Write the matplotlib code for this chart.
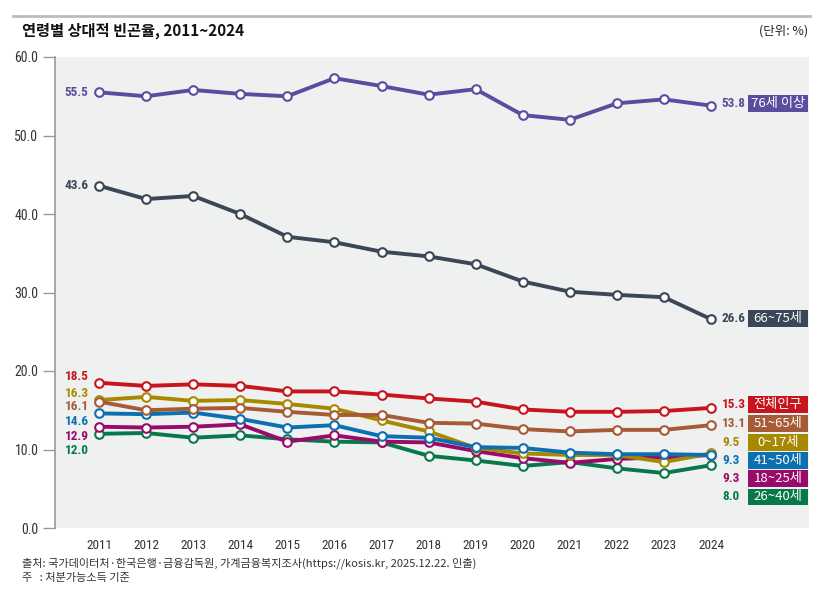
import numpy as np
import matplotlib
matplotlib.use('Agg')
import matplotlib.pyplot as plt
from matplotlib.patches import Rectangle

plt.rcParams['font.family'] = ['Noto Sans CJK KR', 'DejaVu Sans']
NUM = ['Roboto Condensed', 'Liberation Sans Narrow', 'Roboto', 'DejaVu Sans']

years = list(range(2011, 2025))

# 연령별 상대적 빈곤율 (%)
age76 = [55.5, 55.0, 55.8, 55.3, 55.0, 57.3, 56.3, 55.2, 55.9, 52.6, 52.0, 54.1, 54.6, 53.8]
age66_75 = [43.6, 41.9, 42.3, 40.0, 37.1, 36.4, 35.2, 34.6, 33.6, 31.4, 30.1, 29.7, 29.4, 26.6]
total = [18.5, 18.1, 18.3, 18.1, 17.4, 17.4, 17.0, 16.5, 16.1, 15.1, 14.8, 14.8, 14.9, 15.3]
age51_65 = [16.1, 15.0, 15.2, 15.3, 14.8, 14.4, 14.4, 13.4, 13.3, 12.6, 12.3, 12.5, 12.5, 13.1]
age0_17 = [16.3, 16.7, 16.2, 16.3, 15.8, 15.2, 13.7, 12.3, 10.2, 9.5, 9.3, 9.3, 8.4, 9.5]
age41_50 = [14.6, 14.5, 14.7, 13.9, 12.8, 13.1, 11.7, 11.5, 10.3, 10.2, 9.6, 9.4, 9.4, 9.3]
age18_25 = [12.9, 12.8, 12.9, 13.2, 11.0, 11.8, 11.0, 10.9, 9.8, 8.9, 8.3, 8.8, 9.0, 9.3]
age26_40 = [12.0, 12.1, 11.5, 11.8, 11.3, 11.0, 10.9, 9.2, 8.6, 7.9, 8.4, 7.6, 7.0, 8.0]

# name, data, colour, y of the right-hand box, y of the left start label
series = [
    ('26~40세', age26_40, '#08784a', 3.95, 9.85),
    ('18~25세', age18_25, '#990a6b', 6.3, 11.7),
    ('0~17세', age0_17, '#a68900', 10.9, 17.1),
    ('41~50세', age41_50, '#0b6fb0', 8.6, 13.6),
    ('51~65세', age51_65, '#a65a35', 13.3, 15.45),
    ('전체인구', total, '#c8151d', 15.7, 19.3),
    ('66~75세', age66_75, '#3b4656', 26.7, 43.6),
    ('76세 이상', age76, '#5a4da0', 54.1, 55.5),
]

fig = plt.figure(figsize=(8.23, 5.89), dpi=100)
ax = fig.add_axes([55/823, 1-528/589, (809-55)/823, (528-57)/589])
ax.set_facecolor('#eff1f1')

for name, vals, col, boxy, lefty in series:
    ax.plot(years, vals, '-o', color=col, lw=2.8, ms=6.2, mfc='white', mec=col, mew=1.5,
            solid_joinstyle='round', zorder=3)
    ax.text(2010.78, lefty, '%.1f' % vals[0], color=col, ha='right', va='center',
            fontsize=9.5, family=NUM, fontweight='bold')
    ax.text(2024.23, boxy, '%.1f' % vals[-1], color=col, ha='left', va='center',
            fontsize=9.5, family=NUM, fontweight='bold')
    ax.add_patch(Rectangle((2024.79, boxy - 1.08), 1.27, 2.16, fc=col, ec='none',
                           clip_on=False, zorder=4))
    ax.text(2025.42, boxy, name, color='white', ha='center', va='center', fontsize=9.5,
            zorder=5)

ax.set_xlim(2010.065, 2026.08)
ax.set_ylim(0, 60)
ax.set_yticks(np.arange(0, 61, 10))
ax.set_yticklabels(['%.1f' % v for v in np.arange(0, 61, 10)], family=NUM, fontsize=10, color='#333333')
ax.set_xticks(years)
ax.set_xticklabels([str(y) for y in years], family=NUM, fontsize=9.5, color='#333333')
ax.tick_params(axis='x', length=0, pad=8)
ax.tick_params(axis='y', length=9, color='#999999', width=1, pad=3)
for s in ['top', 'right', 'bottom']:
    ax.spines[s].set_visible(False)
ax.spines['left'].set_color('#999999')
ax.spines['left'].set_linewidth(1.2)

fig.add_artist(plt.Line2D([13/823, 810/823], [1-16/589, 1-16/589], color='#bbbbbb', lw=2))
fig.text(22/823, 1-31/589, '연령별 상대적 빈곤율, 2011~2024', fontsize=11, fontweight='bold',
         ha='left', va='center', color='#111111')
fig.text(808/823, 1-31/589, '(단위: %)', fontsize=9, ha='right', va='center', color='#222222')
fig.text(22/823, 1-563/589, '출처: 국가데이터처·한국은행·금융감독원, 가계금융복지조사(https://kosis.kr, 2025.12.22. 인출)',
         fontsize=8, ha='left', va='center', color='#333333')
fig.text(22/823, 1-578/589, '주   : 처분가능소득 기준', fontsize=8, ha='left', va='center', color='#333333')

fig.savefig('out.png', dpi=100)
